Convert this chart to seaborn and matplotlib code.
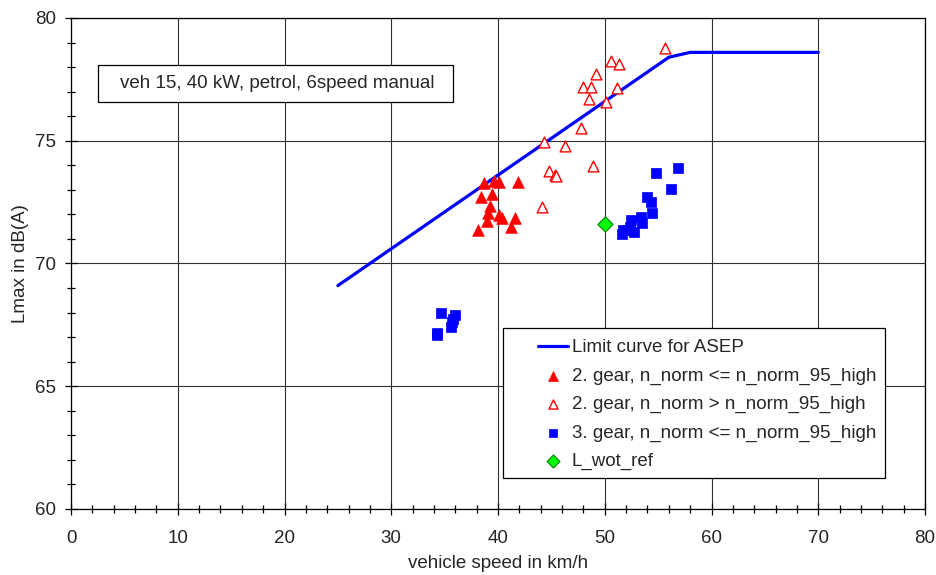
import matplotlib
matplotlib.use("Agg")
import matplotlib.pyplot as plt
import seaborn as sns
from matplotlib.ticker import MultipleLocator
from matplotlib.patches import Rectangle

# ---- data ----
limit_x = [25, 56, 58, 70]
limit_y = [69.1, 78.4, 78.6, 78.6]

g2_low_x = [38.7, 39.6, 40.1, 41.85, 38.4, 39.4, 39.25, 39.1, 40.1, 39.0, 40.35, 41.6, 41.2, 38.15]
g2_low_y = [73.27, 73.36, 73.33, 73.31, 72.70, 72.83, 72.35, 72.04, 71.98, 71.73, 71.84, 71.84, 71.50, 71.36]

g2_high_x = [55.6, 50.6, 51.3, 49.2, 48.0, 48.7, 48.5, 51.1, 50.1, 47.75, 44.3, 46.3, 48.9, 44.8, 45.3, 45.45, 44.1]
g2_high_y = [78.77, 78.25, 78.13, 77.71, 77.20, 77.20, 76.70, 77.14, 76.59, 75.53, 74.96, 74.80, 73.98, 73.77, 73.60, 73.58, 72.30]

g3_x = [54.8, 56.9, 56.25, 53.95, 54.3, 54.45, 53.35, 53.5, 52.45, 52.4, 51.7, 51.6, 52.7, 52.2,
        34.7, 36.0, 35.65, 35.55, 34.25, 34.3, 35.8]
g3_y = [73.67, 73.90, 73.03, 72.72, 72.52, 72.04, 71.91, 71.66, 71.77, 71.50, 71.36, 71.20, 71.27, 71.35,
        67.97, 67.90, 67.63, 67.43, 67.09, 67.15, 67.75]

ref_x = [50.0]
ref_y = [71.6]

labels = ["Limit curve for ASEP",
          "2. gear, n_norm <= n_norm_95_high",
          "2. gear, n_norm > n_norm_95_high",
          "3. gear, n_norm <= n_norm_95_high",
          "L_wot_ref"]
annotation = "veh 15, 40 kW, petrol, 6speed manual"

# ---- style ----
sns.set_style("white")
plt.rcParams["font.family"] = ["Liberation Sans", "DejaVu Sans"]
FS = 13.5
plt.rcParams["font.size"] = FS

fig = plt.figure(figsize=(9.37, 5.75), dpi=100)
ax = fig.add_axes([0.0758, 0.1148, 0.9114, 0.8539])

sns.lineplot(x=limit_x, y=limit_y, ax=ax, color="#0000FF", linewidth=2.3,
             label=labels[0], zorder=3)
sns.scatterplot(x=g2_low_x, y=g2_low_y, ax=ax, marker="^", s=70, color="#FF0000",
                edgecolor="#FF0000", linewidth=0.5, label=labels[1], zorder=4)
sns.scatterplot(x=g2_high_x, y=g2_high_y, ax=ax, marker="^", s=60, facecolor="white",
                edgecolor="#FF0000", linewidth=1.0, label=labels[2], zorder=4)
sns.scatterplot(x=g3_x, y=g3_y, ax=ax, marker="s", s=55, color="#0000FF",
                edgecolor="#0000FF", linewidth=0.5, label=labels[3], zorder=4)
sns.scatterplot(x=ref_x, y=ref_y, ax=ax, marker="D", s=60, color="#00FF00",
                edgecolor="#008000", linewidth=0.8, label=labels[4], zorder=5)

ax.set_xlim(0, 80)
ax.set_ylim(60, 80)
ax.xaxis.set_major_locator(MultipleLocator(10))
ax.xaxis.set_minor_locator(MultipleLocator(2))
ax.yaxis.set_major_locator(MultipleLocator(5))
ax.yaxis.set_minor_locator(MultipleLocator(1))
ax.grid(True, which="major", color="#303030", linewidth=0.8)
ax.set_axisbelow(True)
for sp in ax.spines.values():
    sp.set_visible(True)
    sp.set_color("black")
    sp.set_linewidth(0.9)
ax.tick_params(which="major", direction="inout", length=8, width=0.9, color="black",
               labelsize=FS, bottom=True, left=True)
ax.tick_params(which="minor", direction="inout", length=6, width=0.9, color="black",
               bottom=True, left=True)
ax.tick_params(axis="x", which="major", pad=11)
ax.tick_params(axis="y", which="major", pad=7)
ax.set_xlabel("vehicle speed in km/h", fontsize=FS, labelpad=6)
ax.set_ylabel("Lmax in dB(A)", fontsize=FS, labelpad=4)

# annotation box
ax.add_patch(Rectangle((0.0316, 0.829), 0.4157, 0.0754, transform=ax.transAxes,
                       facecolor="white", edgecolor="black", linewidth=0.9, zorder=6))
ax.text(0.0574, 0.8666, annotation, transform=ax.transAxes, fontsize=FS,
        va="center", ha="left", zorder=7)

# legend with manual frame
ax.add_patch(Rectangle((0.506, 0.063), 0.447, 0.306, transform=ax.transAxes,
                       facecolor="white", edgecolor="black", linewidth=0.9, zorder=6))
h, l = ax.get_legend_handles_labels()
leg = ax.legend(h, l, loc="upper left", bbox_to_anchor=(0.547, 0.346), fontsize=FS,
                frameon=False, borderpad=0, labelspacing=0.6, handlelength=1.6,
                handletextpad=0.2, borderaxespad=0, markerscale=0.85)
leg.set_zorder(8)

fig.savefig("out.png", dpi=100)
